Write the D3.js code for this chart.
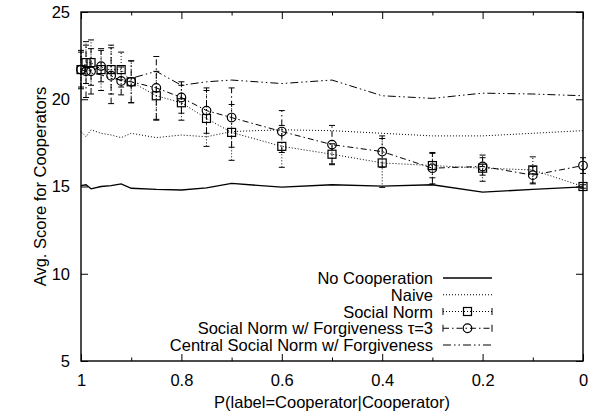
<!DOCTYPE html>
<html>
<head>
<meta charset="utf-8">
<script src="https://cdn.jsdelivr.net/npm/d3@7"></script>
<style>
  body { margin: 0; background: #fff; }
  svg text { font-family: "Liberation Sans", Arial, sans-serif; font-size: 16.5px; fill: #000; }
</style>
</head>
<body>
<div class="chart"></div>
<script>
// x 值: P(label=Cooperator|Cooperator)
const pValues = [1.0, 0.99, 0.98, 0.96, 0.94, 0.92, 0.9, 0.85, 0.8, 0.75, 0.7, 0.6, 0.5, 0.4, 0.3, 0.2, 0.1, 0.0];

const noCooperation = [15.05, 15.1, 14.87, 15.0, 15.05, 15.15, 14.9, 14.83, 14.8, 14.92, 15.18, 14.96, 15.1, 15.02, 15.1, 14.68, 14.83, 14.98];
const naive = [18.15, 17.85, 18.25, 18.05, 17.95, 17.8, 18.05, 17.8, 17.95, 17.85, 18.15, 18.25, 18.2, 18.05, 17.9, 17.9, 18.05, 18.2];
const socialNorm = [21.7, 22.1, 22.1, 21.7, 21.7, 21.7, 21.0, 20.2, 19.8, 18.9, 18.1, 17.3, 16.85, 16.35, 16.2, 16.05, 15.95, 15.0];
const socialNormErr = [1.0, 1.2, 1.3, 1.2, 1.4, 1.0, 1.2, 1.4, 1.0, 1.6, 1.6, 1.2, 0.6, 1.4, 0.7, 0.75, 0.75, 0.1];
const forgiveness = [21.7, 21.6, 21.6, 21.9, 21.35, 21.05, 21.0, 20.65, 20.1, 19.35, 18.95, 18.15, 17.4, 17.0, 16.05, 16.15, 15.65, 16.2];
const forgivenessErr = [1.1, 1.5, 1.3, 0.9, 1.6, 0.8, 1.2, 1.8, 0.9, 1.3, 1.7, 1.2, 1.1, 0.9, 0.9, 0.5, 0.5, 0.45];
const centralForgiveness = [21.7, 21.9, 21.5, 21.4, 21.2, 21.1, 21.2, 21.6, 20.8, 21.0, 21.1, 20.9, 21.1, 20.2, 20.05, 20.35, 20.3, 20.2];

const xMajorTicks = [1, 0.8, 0.6, 0.4, 0.2, 0];
const xMinorTicks = [0.9, 0.7, 0.5, 0.3, 0.1];
const yTicks = [5, 10, 15, 20, 25];

const legendLabels = ['No Cooperation', 'Naive', 'Social Norm', 'Social Norm w/ Forgiveness \u03c4=3', 'Central Social Norm w/ Forgiveness'];

// 各條線的樣式
const series = [
  {name: legendLabels[0], values: noCooperation, dash: null, width: 1.3},
  {name: legendLabels[1], values: naive, dash: '1,2', width: 1},
  {name: legendLabels[2], values: socialNorm, err: socialNormErr, dash: '1,2', width: 1, marker: 'square'},
  {name: legendLabels[3], values: forgiveness, err: forgivenessErr, dash: '6,3,1.5,3', width: 1, marker: 'circle'},
  {name: legendLabels[4], values: centralForgiveness, dash: '8,3,1.5,3,1.5,3', width: 1}
];

const W = 597, H = 417;
const pLeft = 81, pRight = 583, pTop = 12, pBottom = 361;

const svg = d3.select('.chart').append('svg')
  .attr('width', W)
  .attr('height', H);

const x = d3.scaleLinear().domain([1, 0]).range([pLeft, pRight]);
const y = d3.scaleLinear().domain([5, 25]).range([pBottom, pTop]);
const fmt = d3.format('~g');

// 座標軸 (刻度朝內)
svg.append('g').attr('transform', `translate(0,${pBottom})`)
  .call(d3.axisBottom(x).tickValues(xMajorTicks).tickFormat(fmt).tickSizeInner(-7).tickSizeOuter(0).tickPadding(13));
svg.append('g').attr('transform', `translate(0,${pBottom})`)
  .call(d3.axisBottom(x).tickValues(xMinorTicks).tickFormat('').tickSizeInner(-3.5).tickSizeOuter(0));
svg.append('g').attr('transform', `translate(0,${pTop})`)
  .call(d3.axisTop(x).tickValues(xMajorTicks).tickFormat('').tickSizeInner(-7).tickSizeOuter(0));
svg.append('g').attr('transform', `translate(0,${pTop})`)
  .call(d3.axisTop(x).tickValues(xMinorTicks).tickFormat('').tickSizeInner(-3.5).tickSizeOuter(0));
svg.append('g').attr('transform', `translate(${pLeft},0)`)
  .call(d3.axisLeft(y).tickValues(yTicks).tickFormat(fmt).tickSizeInner(-7).tickSizeOuter(0).tickPadding(11));
svg.append('g').attr('transform', `translate(${pRight},0)`)
  .call(d3.axisRight(y).tickValues(yTicks).tickFormat('').tickSizeInner(-7).tickSizeOuter(0));

svg.selectAll('.domain').remove();
svg.selectAll('.tick line').attr('stroke', '#000').attr('stroke-width', 1);
svg.selectAll('.tick text').attr('font-size', null).attr('font-family', null).attr('fill', null);

// 外框
svg.append('rect')
  .attr('x', pLeft).attr('y', pTop)
  .attr('width', pRight - pLeft).attr('height', pBottom - pTop)
  .attr('fill', 'none').attr('stroke', '#000').attr('stroke-width', 1.4);

// 軸標題
svg.append('text').text('P(label=Cooperator|Cooperator)')
  .attr('x', (pLeft + pRight) / 2).attr('y', 402)
  .attr('text-anchor', 'middle')
  .attr('dominant-baseline', 'central');

svg.append('text').text('Avg. Score for Cooperators')
  .attr('transform', `translate(40,${(pTop + pBottom) / 2}) rotate(-90)`)
  .attr('text-anchor', 'middle')
  .attr('dominant-baseline', 'central');

const line = d3.line().x(d => x(d[0])).y(d => y(d[1]));

const plot = svg.append('g');

series.forEach(s => {
  const pts = pValues.map((p, i) => [p, s.values[i]]);
  plot.append('path')
    .attr('d', line(pts))
    .attr('fill', 'none')
    .attr('stroke', '#000')
    .attr('stroke-width', s.width)
    .attr('stroke-dasharray', s.dash);

  if (s.err) {
    const eb = plot.append('g')
      .attr('stroke', '#000')
      .attr('stroke-width', 1)
      .attr('stroke-dasharray', s.dash);
    pValues.forEach((p, i) => {
      const cx = x(p), lo = y(s.values[i] - s.err[i]), hi = y(s.values[i] + s.err[i]);
      eb.append('line').attr('x1', cx).attr('x2', cx).attr('y1', lo).attr('y2', hi);
      eb.append('line').attr('x1', cx - 3).attr('x2', cx + 3).attr('y1', lo).attr('y2', lo).attr('stroke-dasharray', 'none');
      eb.append('line').attr('x1', cx - 3).attr('x2', cx + 3).attr('y1', hi).attr('y2', hi).attr('stroke-dasharray', 'none');
    });
  }
});

function drawMarker(g, type, cx, cy) {
  if (type === 'square') {
    g.append('rect').attr('x', cx - 4).attr('y', cy - 4).attr('width', 8).attr('height', 8)
      .attr('fill', 'none').attr('stroke', '#000').attr('stroke-width', 1.2);
  } else if (type === 'circle') {
    g.append('circle').attr('cx', cx).attr('cy', cy).attr('r', 4.3)
      .attr('fill', 'none').attr('stroke', '#000').attr('stroke-width', 1.2);
  }
}

series.filter(s => s.marker).forEach(s => {
  pValues.forEach((p, i) => drawMarker(plot, s.marker, x(p), y(s.values[i])));
});

// 圖例
const legend = svg.append('g');
series.forEach((s, i) => {
  const ly = 278 + i * 16.75;
  legend.append('text').text(s.name)
    .attr('x', 433).attr('y', ly)
    .attr('text-anchor', 'end')
    .attr('dominant-baseline', 'central');
  legend.append('line')
    .attr('x1', 443).attr('x2', 492).attr('y1', ly).attr('y2', ly)
    .attr('stroke', '#000').attr('stroke-width', s.width)
    .attr('stroke-dasharray', s.dash);
  if (s.err) {
    [443, 492].forEach(ex => {
      legend.append('line').attr('x1', ex).attr('x2', ex).attr('y1', ly - 3.5).attr('y2', ly + 3.5)
        .attr('stroke', '#000').attr('stroke-width', 1);
    });
    drawMarker(legend, s.marker, 467.5, ly);
  }
});
</script>
</body>
</html>
